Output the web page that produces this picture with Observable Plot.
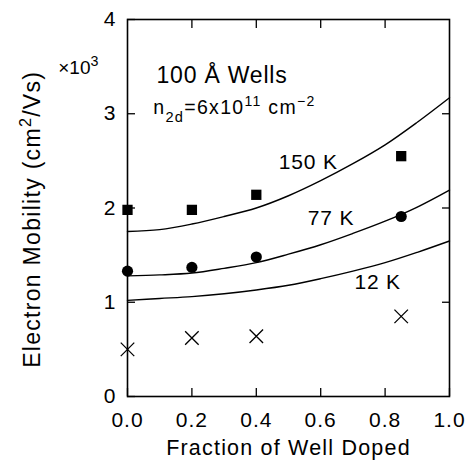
<!DOCTYPE html>
<html><head><meta charset="utf-8">
<script src="https://cdn.jsdelivr.net/npm/d3@7"></script>
<script src="https://cdn.jsdelivr.net/npm/@observablehq/plot@0.6"></script>
<style>body{margin:0;background:#fff}</style>
</head><body><div id="chart"></div>
<script>
// ---- data ----
const xTicks = [0, 0.2, 0.4, 0.6, 0.8, 1.0];
const yTicks = [0, 1, 2, 3, 4];
const innerXTicks = [0.2, 0.4, 0.6, 0.8];
const innerYTicks = [1, 2, 3];

// measured points
const pointX = [0, 0.2, 0.4, 0.85];
const squares150 = [1.98, 1.98, 2.14, 2.55];
const circles77 = [1.33, 1.37, 1.48, 1.91];
const crosses12 = [0.50, 0.62, 0.64, 0.85];

// theory curves
const curveX = [0, 0.1, 0.2, 0.3, 0.4, 0.5, 0.6, 0.7, 0.8, 0.9, 1.0];
const curve150 = [1.75, 1.77, 1.83, 1.91, 2.00, 2.13, 2.29, 2.47, 2.67, 2.91, 3.17];
const curve77 = [1.28, 1.29, 1.31, 1.36, 1.42, 1.51, 1.61, 1.73, 1.86, 2.01, 2.19];
const curve12 = [1.02, 1.04, 1.06, 1.09, 1.13, 1.18, 1.25, 1.33, 1.42, 1.53, 1.65];

const curveLabels = ["150 K", "77 K", "12 K"];
const curveLabelX = [0.47, 0.56, 0.705];
const curveLabelY = [2.49, 1.89, 1.21];

const title = "100 Å Wells";
const subtitle = "n2d=6x1011 cm−2";
const annX = [0.09, 0.08];
const annY = [3.40, 3.06];
const multiplier = "×10³";
const multX = -0.215, multY = 3.49;

const xLabel = "Fraction of Well Doped";
const yLabel = "Electron Mobility (cm²/Vs)";
const yLabelPos = 1.88;

// ---- tables ----
const curves = [
  ...curveX.map((x, i) => ({x, y: curve150[i], s: "150"})),
  ...curveX.map((x, i) => ({x, y: curve77[i], s: "77"})),
  ...curveX.map((x, i) => ({x, y: curve12[i], s: "12"}))
];
const sq = pointX.map((x, i) => ({x, y: squares150[i]}));
const ci = pointX.map((x, i) => ({x, y: circles77[i]}));
const cr = pointX.map((x, i) => ({x, y: crosses12[i]}));
const labs = curveLabels.map((t, i) => ({t, x: curveLabelX[i], y: curveLabelY[i]}));

const font = "'Liberation Sans', Arial, Helvetica, sans-serif";

const chart = Plot.plot({
  width: 467, height: 460,
  marginLeft: 127, marginRight: 18, marginTop: 19, marginBottom: 64,
  x: {domain: [0, 1]},
  y: {domain: [0, 4]},
  style: {fontFamily: font, fontSize: "21px", color: "black", background: "white", overflow: "visible"},
  marks: [
    Plot.frame({stroke: "black", strokeWidth: 1.6}),
    Plot.axisX(xTicks, {anchor: "bottom", tickSize: -8, tickPadding: 24, tickFormat: d3.format(".1f"), label: null, fontSize: 21, strokeWidth: 1.3, className: "tl"}),
    Plot.axisX(innerXTicks, {anchor: "top", tickSize: -8, tickFormat: () => "", label: null, strokeWidth: 1.3}),
    Plot.axisY(yTicks, {anchor: "left", tickSize: -8, tickPadding: 20, tickFormat: d3.format("d"), label: null, fontSize: 21, strokeWidth: 1.3}),
    Plot.axisY(innerYTicks, {anchor: "right", tickSize: -8, tickFormat: () => "", label: null, strokeWidth: 1.3}),
    Plot.line(curves, {x: "x", y: "y", z: "s", curve: "catmull-rom", stroke: "black", strokeWidth: 1.4}),
    Plot.dot(sq, {x: "x", y: "y", symbol: "square", r: 5.8, fill: "black", stroke: "none"}),
    Plot.dot(ci, {x: "x", y: "y", symbol: "circle", r: 5.6, fill: "black", stroke: "none"}),
    Plot.dot(cr, {x: "x", y: "y", symbol: "times", r: 6.2, stroke: "black", strokeWidth: 1.3, fill: "none"}),
    Plot.text(labs, {x: "x", y: "y", text: "t", textAnchor: "start", fontSize: 21, className: "wide"}),
    Plot.text([title], {x: annX[0], y: annY[0], textAnchor: "start", fontSize: 23, className: "wide"}),
    Plot.text([subtitle], {x: annX[1], y: annY[1], textAnchor: "start", fontSize: 19.5, className: "n2d"}),
    Plot.text([multiplier], {x: multX, y: multY, textAnchor: "start", fontSize: 19, className: "mult"}),
    Plot.text([xLabel], {frameAnchor: "bottom", dy: 52, lineAnchor: "middle", textAnchor: "middle", fontSize: 21.5, className: "xlab"}),
    Plot.text([yLabel], {y: () => yLabelPos, frameAnchor: "left", dx: -95, rotate: -90, textAnchor: "middle", lineAnchor: "middle", fontSize: 23, className: "ylab"})
  ]
});
document.getElementById("chart").appendChild(chart);

// rich text: sub/superscripts
const sv = d3.select(chart);
sv.selectAll(".n2d text").html(
  'n<tspan baseline-shift="sub" font-size="75%">2d</tspan>=6x10<tspan baseline-shift="super" font-size="72%">11</tspan> cm<tspan baseline-shift="super" font-size="72%">−2</tspan>'
).style("letter-spacing", "1.3px");
sv.selectAll(".mult text").html('×10<tspan baseline-shift="super" font-size="75%">3</tspan>');
sv.selectAll(".ylab text").html('Electron Mobility (cm<tspan baseline-shift="super" font-size="70%">2</tspan>/Vs)').style("letter-spacing", "1.3px");
sv.selectAll(".xlab text").style("letter-spacing", "1.2px");
sv.selectAll(".wide text").style("letter-spacing", "0.8px");
sv.selectAll(".tl text").style("letter-spacing", "1px");
</script>
</body></html>
